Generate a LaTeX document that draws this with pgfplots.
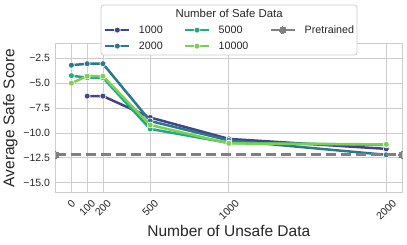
\documentclass[border=0pt]{standalone}
\usepackage{fontspec}
\setmainfont{Liberation Sans}
\usepackage{graphicx}
\usepackage{pgfplots}
\pgfplotsset{compat=1.18}
\definecolor{c1}{HTML}{414487}
\definecolor{c2}{HTML}{2A788E}
\definecolor{c3}{HTML}{22A884}
\definecolor{c4}{HTML}{7AD151}
\definecolor{gridgray}{HTML}{CCCCCC}
\definecolor{txt}{HTML}{262626}
\definecolor{pre}{HTML}{808080}
\pgfplotsset{
  s1/.style={c1, line width=2.5pt, mark=*, mark size=3pt, mark options={fill=c1, draw=white, line width=0.6pt}},
  s2/.style={c2, line width=2.5pt, mark=*, mark size=3pt, mark options={fill=c2, draw=white, line width=0.6pt}},
  s3/.style={c3, line width=2.5pt, mark=*, mark size=3pt, mark options={fill=c3, draw=white, line width=0.6pt}},
  s4/.style={c4, line width=2.5pt, mark=*, mark size=3pt, mark options={fill=c4, draw=white, line width=0.6pt}},
  sp/.style={pre, line width=2.8pt, dash pattern=on 10.5pt off 4.5pt, mark=*, mark size=3.3pt, mark options={solid, fill=pre, draw=pre, line width=0pt}},
}
\begin{document}
\begin{tikzpicture}
\useasboundingbox (-55.7pt,-52.3pt) rectangle (351.3pt,192.7pt);
\begin{axis}[
  at={(0pt,0pt)}, anchor=south west,
  scale only axis, width=346.3pt, height=149.4pt,
  xmin=-100, xmax=2100, ymin=-16, ymax=-1,
  xtick={0,100,200,500,1000,2000},
  xticklabels={\rotatebox{45}{0},\rotatebox{45}{100},\rotatebox{45}{200},\rotatebox{45}{500},\rotatebox{45}{1000},\rotatebox{45}{2000}},
  ytick={-15,-12.5,-10,-7.5,-5,-2.5},
  yticklabels={−15.0,−12.5,−10.0,−7.5,−5.0,−2.5},
  major tick length=0pt,
  grid=major, grid style={gridgray, line width=0.8pt},
  axis line style={gridgray, line width=1pt},
  tick label style={font=\fontsize{10.5}{12}\selectfont, text=txt},
  xticklabel style={anchor=north, inner sep=0pt, yshift=-6pt},
  yticklabel style={anchor=east, inner sep=0pt, xshift=-5.5pt},
  xlabel={Number of Unsafe Data}, ylabel={Average Safe Score},
  label style={font=\fontsize{15.5}{18}\selectfont, text=txt, inner sep=0pt},
  xlabel style={at={(axis description cs:0.5,-0.2965)}, anchor=base},
  ylabel style={at={(axis description cs:-0.119,0.5)}, anchor=base},
  clip marker paths=true,
  legend image code/.code={\draw[mark repeat=2,mark phase=2,#1] plot coordinates {(0pt,0pt) (12pt,0pt) (24pt,0pt)};},
  legend columns=3,
  legend cell align=left,
  legend style={
    at={(axis description cs:0.12995,1.25837)}, anchor=north west,
    draw=gridgray, fill=white, rounded corners=2.5pt, line width=0.8pt,
    font=\fontsize{10.7}{12}\selectfont, text=txt,
    inner xsep=3pt, inner ysep=1pt,
    /tikz/every odd column/.append style={column sep=8.4pt},
    /tikz/every even column/.append style={column sep=21pt},
    nodes={inner sep=0pt, minimum height=16pt},
  },
]
\addplot[s1, forget plot] coordinates {(100,-6.3) (200,-6.3) (500,-8.45) (1000,-10.6) (2000,-11.6)};
\addplot[s2, forget plot] coordinates {(0,-3.2) (100,-3.05) (200,-3.05) (500,-8.8) (1000,-10.75) (2000,-12.2)};
\addplot[s3, forget plot] coordinates {(0,-4.25) (100,-4.45) (200,-4.45) (500,-9.6) (1000,-11.0) (2000,-11.2)};
\addplot[s4, forget plot] coordinates {(0,-5.0) (100,-4.3) (200,-4.3) (500,-9.2) (1000,-11.05) (2000,-11.15)};
\addplot[sp, forget plot] coordinates {(-100,-12.2) (2100,-12.2)};
\addlegendimage{empty legend}\addlegendentry{}
\addlegendimage{empty legend}\addlegendentry{}
\addlegendimage{empty legend}\addlegendentry{}
\addlegendimage{s1}\addlegendentry{1000}
\addlegendimage{s3}\addlegendentry{5000}
\addlegendimage{sp}\addlegendentry{Pretrained}
\addlegendimage{s2}\addlegendentry{2000}
\addlegendimage{s4}\addlegendentry{10000}
\end{axis}
\node[font=\fontsize{11.4}{13}\selectfont, text=txt, inner sep=0pt] at (173.5pt,179.4pt) {Number of Safe Data};
\end{tikzpicture}
\end{document}
